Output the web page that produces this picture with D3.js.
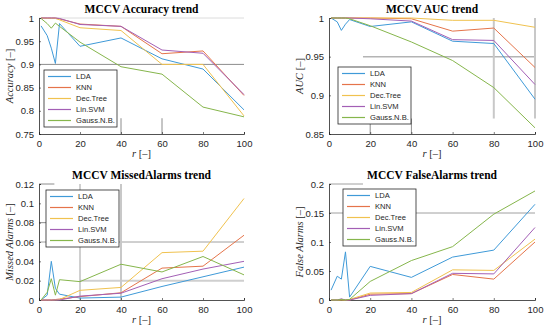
<!DOCTYPE html>
<html>
<head>
<meta charset="utf-8">
<script src="https://cdn.jsdelivr.net/npm/d3@7"></script>
<style>
  body { margin: 0; background: #fff; }
</style>
</head>
<body>
<div id="chart"></div>
<script>
// data
var rVals = [1, 4, 6, 8, 10, 20, 40, 60, 80, 100];
var methods = ['LDA', 'KNN', 'Dec.Tree', 'Lin.SVM', 'Gauss.N.B.'];
var xTicks = [0, 20, 40, 60, 80, 100];

// one row per method, same order as methods
var accuracyVals = [
  [0.983, 0.962, 0.935, 0.902, 0.988, 0.939, 0.957, 0.912, 0.890, 0.802],
  [1.000, 1.000, 1.000, 1.000, 0.998, 0.987, 0.982, 0.923, 0.929, 0.833],
  [1.000, 0.999, 0.999, 0.999, 0.996, 0.979, 0.973, 0.900, 0.900, 0.789],
  [1.000, 1.000, 1.000, 1.000, 0.999, 0.986, 0.982, 0.931, 0.924, 0.835],
  [0.999, 0.988, 0.978, 0.989, 0.982, 0.948, 0.895, 0.879, 0.808, 0.787]
];
var aucVals = [
  [1.000, 0.995, 0.984, 0.992, 0.998, 0.989, 0.995, 0.970, 0.967, 0.895],
  [1.000, 1.000, 1.000, 1.000, 1.000, 1.000, 0.999, 0.983, 0.987, 0.936],
  [1.000, 1.000, 1.000, 1.000, 1.000, 1.000, 1.000, 0.997, 0.997, 0.988],
  [1.000, 1.000, 1.000, 1.000, 1.000, 0.999, 0.996, 0.972, 0.971, 0.914],
  [1.000, 1.000, 1.000, 1.000, 0.999, 0.990, 0.969, 0.945, 0.910, 0.858]
];
var missedVals = [
  [0.000, 0.005, 0.040, 0.012, 0.006, 0.002, 0.003, 0.014, 0.024, 0.034],
  [0.000, 0.000, 0.000, 0.0005, 0.001, 0.0035, 0.0075, 0.033, 0.035, 0.067],
  [0.000, 0.000, 0.000, 0.000, 0.0005, 0.010, 0.013, 0.049, 0.0505, 0.105],
  [0.000, 0.000, 0.000, 0.000, 0.000, 0.004, 0.007, 0.022, 0.032, 0.040],
  [0.000, 0.008, 0.022, 0.005, 0.021, 0.019, 0.037, 0.029, 0.045, 0.026]
];
var falseVals = [
  [0.017, 0.041, 0.036, 0.083, 0.005, 0.058, 0.039, 0.074, 0.086, 0.165],
  [0.000, 0.000, 0.001, 0.000, 0.000, 0.010, 0.011, 0.044, 0.036, 0.100],
  [0.000, 0.000, 0.000, 0.000, 0.001, 0.012, 0.013, 0.052, 0.051, 0.105],
  [0.000, 0.000, 0.002, 0.000, 0.000, 0.008, 0.011, 0.046, 0.045, 0.125],
  [0.000, 0.000, 0.001, 0.000, 0.001, 0.032, 0.068, 0.092, 0.148, 0.188]
];

var accTicks = [0.75, 0.8, 0.85, 0.9, 0.95, 1];
var aucTicks = [0.85, 0.9, 0.95, 1];
var missedTicks = [0, 0.02, 0.04, 0.06, 0.08, 0.1, 0.12];
var falseTicks = [0, 0.05, 0.1, 0.15, 0.2];

var colors = ['#3f9ad8', '#e5744a', '#f0c24f', '#a35fb5', '#86b64c'];

var svg = d3.select('#chart').append('svg')
  .attr('width', 550)
  .attr('height', 330);

// panel layout
var panels = [
  { title: 'MCCV Accuracy trend', ylab: 'Accuracy', vals: accuracyVals, ticks: accTicks, dom: [0.75, 1],
    box: [39, 18, 244, 134], leg: [5, 52],
    refs: [[0, 1, 100, 1, '#dcdcdc', 1], [0, 0.9, 100, 0.9, '#8c8c8c', 1],
           [40, 0.75, 40, 0.784, '#8c8c8c', 1], [60, 0.75, 60, 0.784, '#8c8c8c', 1]] },
  { title: 'MCCV AUC trend', ylab: 'AUC', vals: aucVals, ticks: aucTicks, dom: [0.85, 1],
    box: [329, 18, 535, 134], leg: [9, 49],
    refs: [[16.5, 0.95, 100, 0.95, '#b4b4b4', 1.5], [80, 0.87, 80, 1, '#c8c8c8', 2], [100, 0.87, 100, 1, '#c8c8c8', 2],
           [20, 0.85, 20, 0.87, '#8c8c8c', 1], [40, 0.85, 40, 0.87, '#8c8c8c', 1]] },
  { title: 'MCCV MissedAlarms trend', ylab: 'Missed Alarms', vals: missedVals, ticks: missedTicks, dom: [0, 0.12],
    box: [39, 184, 244, 300], leg: [7, 6],
    refs: [[0, 0.12, 7.5, 0.12, '#8c8c8c', 1], [0, 0.08, 3.5, 0.08, '#8c8c8c', 1],
           [0, 0.06, 100, 0.06, '#a0a0a0', 1], [20, 0.02, 100, 0.02, '#cfcfcf', 2],
           [20, 0, 20, 0.12, '#a0a0a0', 1], [40, 0, 40, 0.12, '#c8c8c8', 2]] },
  { title: 'MCCV FalseAlarms trend', ylab: 'False Alarms', vals: falseVals, ticks: falseTicks, dom: [0, 0.2],
    box: [329, 184, 535, 300], leg: [14, 5],
    refs: [[0, 0.2, 16.5, 0.2, '#a0a0a0', 1], [0, 0.15, 100, 0.15, '#a0a0a0', 1]] }
];

var fmt = function(d) { return String(+d.toFixed(2)); };

panels.forEach(function(p) {
  var x0 = p.box[0], y0 = p.box[1], x1 = p.box[2], y1 = p.box[3];
  var x = d3.scaleLinear().domain([0, 100]).range([x0, x1]);
  var y = d3.scaleLinear().domain(p.dom).range([y1, y0]);
  var g = svg.append('g');

  // the odd grey reference segments
  p.refs.forEach(function(r) {
    g.append('line')
      .attr('x1', x(r[0])).attr('y1', y(r[1]))
      .attr('x2', x(r[2])).attr('y2', y(r[3]))
      .attr('stroke', r[4]).attr('stroke-width', r[5]);
  });

  // axes (MATLAB style, ticks inward)
  var xAxis = d3.axisBottom(x).tickValues(xTicks).tickSize(-2).tickPadding(6).tickFormat(d3.format('d'));
  var yAxis = d3.axisLeft(y).tickValues(p.ticks).tickSize(-2).tickPadding(5).tickFormat(fmt);

  g.append('g').attr('transform', 'translate(0,' + y1 + ')').call(xAxis);
  g.append('g').attr('transform', 'translate(' + x0 + ',0)').call(yAxis);
  g.selectAll('.domain').attr('stroke', '#262626').attr('stroke-width', 0.8);
  g.selectAll('.tick line').attr('stroke', '#262626').attr('stroke-width', 0.6);
  g.selectAll('.tick text')
    .attr('font-family', 'Liberation Sans, Arial, sans-serif')
    .attr('font-size', 9.5)
    .attr('fill', '#262626');

  // lines
  var line = d3.line()
    .x(function(d, i) { return x(rVals[i]); })
    .y(function(d) { return y(d); });

  p.vals.forEach(function(v, k) {
    g.append('path')
      .attr('d', line(v))
      .attr('fill', 'none')
      .attr('stroke', colors[k])
      .attr('stroke-width', 1);
  });

  // title
  g.append('text')
    .attr('x', (x0 + x1) / 2)
    .attr('y', y0 - 5)
    .attr('text-anchor', 'middle')
    .attr('font-family', 'Liberation Serif, serif')
    .attr('font-weight', 'bold')
    .attr('font-size', 11.5)
    .attr('fill', '#000')
    .text(p.title);

  // x label
  var xl = g.append('text')
    .attr('x', (x0 + x1) / 2)
    .attr('y', y1 + 23)
    .attr('text-anchor', 'middle')
    .attr('font-family', 'Liberation Serif, serif')
    .attr('font-size', 10.5)
    .attr('fill', '#262626');
  xl.append('tspan').attr('font-style', 'italic').text('r');
  xl.append('tspan').text(' [–]');

  // y label
  var yl = g.append('text')
    .attr('transform', 'translate(' + (x0 - 26) + ',' + ((y0 + y1) / 2) + ') rotate(-90)')
    .attr('text-anchor', 'middle')
    .attr('font-family', 'Liberation Serif, serif')
    .attr('font-size', 10.5)
    .attr('fill', '#262626');
  yl.append('tspan').attr('font-style', 'italic').text(p.ylab);
  yl.append('tspan').text(' [–]');

  // legend
  var lx = x0 + p.leg[0], ly = y0 + p.leg[1];
  var legend = g.append('g').attr('transform', 'translate(' + lx + ',' + ly + ')');
  legend.append('rect')
    .attr('width', 73).attr('height', 57)
    .attr('fill', '#fff')
    .attr('stroke', '#262626').attr('stroke-width', 0.8);
  methods.forEach(function(m, k) {
    var yy = 6.5 + k * 11;
    legend.append('line')
      .attr('x1', 4).attr('x2', 27)
      .attr('y1', yy).attr('y2', yy)
      .attr('stroke', colors[k]).attr('stroke-width', 1.2);
    legend.append('text')
      .attr('x', 32).attr('y', yy + 2.7)
      .attr('font-family', 'Liberation Sans, Arial, sans-serif')
      .attr('font-size', 7.6)
      .attr('fill', '#262626')
      .text(m);
  });
});
</script>
</body>
</html>
